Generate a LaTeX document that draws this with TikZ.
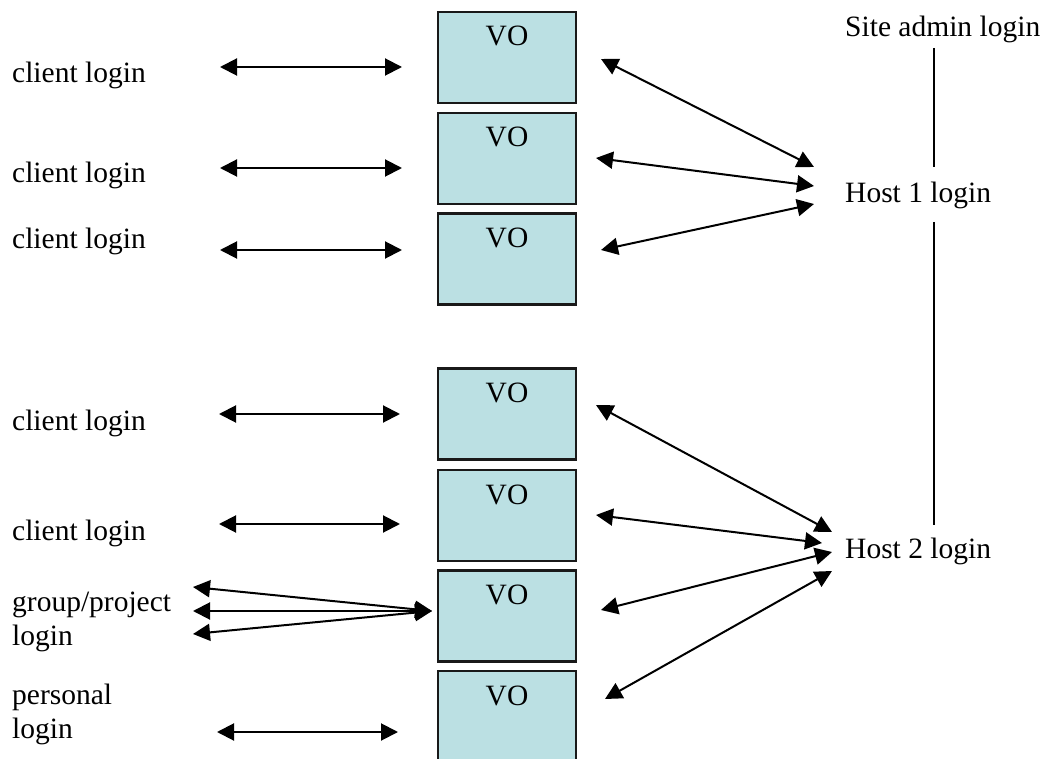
\documentclass[tikz,border=0pt]{standalone}
\usepackage{fontspec}
\setmainfont{Liberation Serif}
\usetikzlibrary{arrows.meta}
\definecolor{vofill}{RGB}{187,224,227}
\definecolor{voedge}{RGB}{25,25,25}
\tikzset{
  vobox/.style={draw=voedge, line width=2.4pt, fill=vofill, minimum width=138pt,
    minimum height=91pt, inner sep=0pt, outer sep=0pt},
  volabel/.style={anchor=base, yshift=-34pt, inner sep=0pt},
  lbl/.style={anchor=base west, inner sep=0pt, align=left},
  link/.style={<->, line width=2pt, >={Triangle[length=17pt,width=17pt]}},
  rule/.style={line width=1.6pt},
}
\begin{document}
\begin{tikzpicture}[x=1pt,y=-1pt,font=\fontsize{29.5}{34}\selectfont]
\useasboundingbox (0,0) rectangle (1042,759);

% VO boxes, stacked in two groups
\node[vobox,label={[volabel]north:VO}] (v1) at (507,57.5) {};
\node[vobox,label={[volabel]north:VO}] (v2) at (507,158.5) {};
\node[vobox,label={[volabel]north:VO}] (v3) at (507,259) {};
\node[vobox,label={[volabel]north:VO}] (v4) at (507,414) {};
\node[vobox,label={[volabel]north:VO}] (v5) at (507,515.5) {};
\node[vobox,label={[volabel]north:VO}] (v6) at (507,616) {};
\node[vobox,label={[volabel]north:VO}] (v7) at (507,716.5) {};

% login labels on the left (base anchor sits on the last line)
\node[lbl] (c1) at (12,83) {client login};
\node[lbl] (c2) at (12,183) {client login};
\node[lbl] (c3) at (12,249) {client login};
\node[lbl] (c4) at (12,430) {client login};
\node[lbl] (c5) at (12,540) {client login};
\node[lbl] (gp) at (12,645) {group/project\\login};
\node[lbl] (pl) at (12,738) {personal\\login};

% hosts on the right
\node[lbl] (sa) at (845,37) {Site admin login};
\node[lbl] (h1) at (845,203) {Host 1 login};
\node[lbl] (h2) at (845,558) {Host 2 login};

% arrow end points
\coordinate (c1r) at (220,67);  \coordinate (v1l) at (402,67);
\coordinate (c2r) at (220,168); \coordinate (v2l) at (402,168);
\coordinate (c3r) at (220,250); \coordinate (v3l) at (402,250);
\coordinate (c4r) at (219,414); \coordinate (v4l) at (400,414);
\coordinate (c5r) at (219,524); \coordinate (v5l) at (400,524);
\coordinate (gpa) at (193,587); \coordinate (gpb) at (193,611);
\coordinate (gpc) at (193,634); \coordinate (v6l) at (432,611);
\coordinate (plr) at (217,732); \coordinate (v7l) at (398,732);

\coordinate (v1r) at (601,59);  \coordinate (h1a) at (814,167);
\coordinate (v2r) at (596,158); \coordinate (h1b) at (814,186);
\coordinate (v3r) at (601,250); \coordinate (h1c) at (814,204);
\coordinate (v4r) at (596,405); \coordinate (h2a) at (832,532);
\coordinate (v5r) at (596,515); \coordinate (h2b) at (822,543);
\coordinate (v6r) at (601,610); \coordinate (h2c) at (832,552);
\coordinate (v7r) at (605,699); \coordinate (h2d) at (832,571);

\coordinate (sab) at (934,48);  \coordinate (h1t) at (934,167);
\coordinate (h1d) at (934,222); \coordinate (h2t) at (934,525);

% client side links
\draw[link] (c1r) -- (v1l);
\draw[link] (c2r) -- (v2l);
\draw[link] (c3r) -- (v3l);
\draw[link] (c4r) -- (v4l);
\draw[link] (c5r) -- (v5l);
\draw[link] (gpa) -- (v6l);
\draw[link] (gpb) -- (v6l);
\draw[link] (gpc) -- (v6l);
\draw[link] (plr) -- (v7l);

% host side links
\draw[link] (v1r) -- (h1a);
\draw[link] (v2r) -- (h1b);
\draw[link] (v3r) -- (h1c);
\draw[link] (v4r) -- (h2a);
\draw[link] (v5r) -- (h2b);
\draw[link] (v6r) -- (h2c);
\draw[link] (v7r) -- (h2d);

% admin hierarchy
\draw[rule] (sab) -- (h1t);
\draw[rule] (h1d) -- (h2t);
\end{tikzpicture}
\end{document}
